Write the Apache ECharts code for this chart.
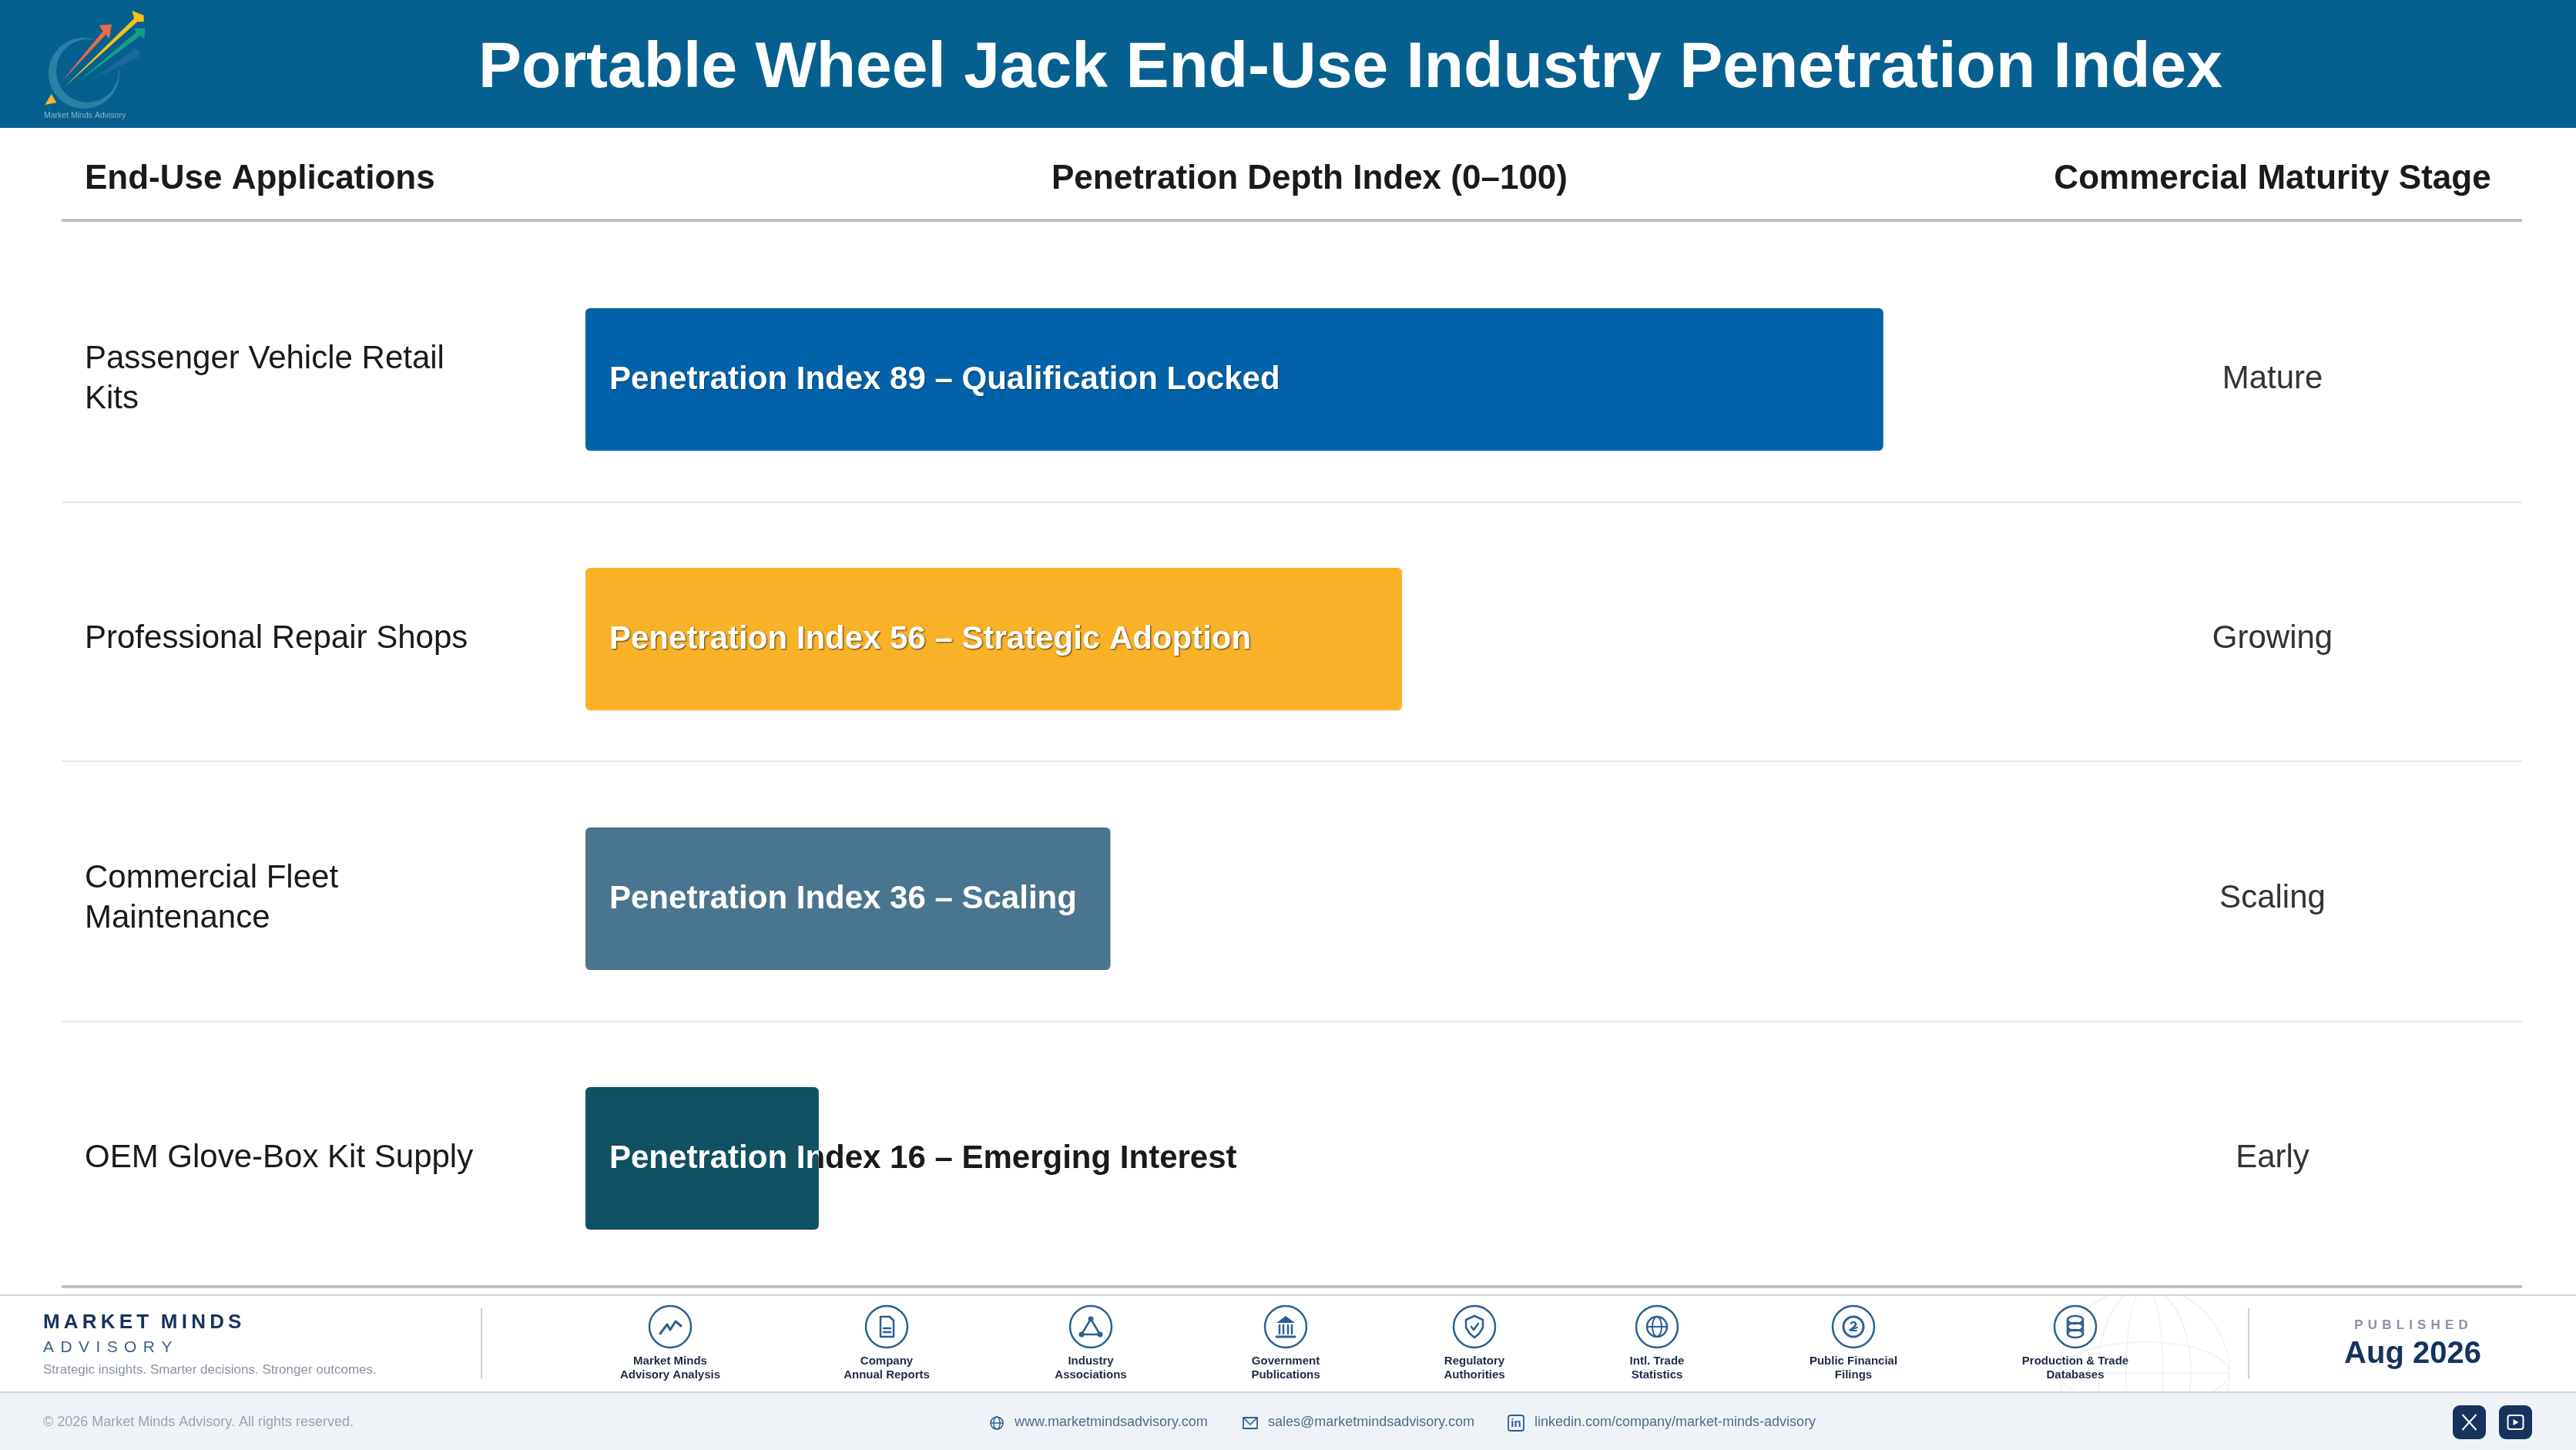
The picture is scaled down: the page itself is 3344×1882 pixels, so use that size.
<!DOCTYPE html>
<html>
<head>
<meta charset="utf-8">
<title>Portable Wheel Jack End-Use Industry Penetration Index</title>
<script src="https://cdn.jsdelivr.net/npm/echarts@6/dist/echarts.min.js"></script>
<style>
html, body { margin: 0; padding: 0; background: #fff; }
#main { width: 3344px; height: 1882px; }
</style>
</head>
<body>
<div id="main"></div>
<script>
var chartTitle = 'Portable Wheel Jack End-Use Industry Penetration Index';
var columnHeads = ['End-Use Applications', 'Penetration Depth Index (0\u2013100)', 'Commercial Maturity Stage'];
var applications = ['Passenger Vehicle Retail\nKits', 'Professional Repair Shops', 'Commercial Fleet\nMaintenance', 'OEM Glove-Box Kit Supply'];
var indexValues = [89, 56, 36, 16];
var indexNotes = ['Qualification Locked', 'Strategic Adoption', 'Scaling', 'Emerging Interest'];
var stages = ['Mature', 'Growing', 'Scaling', 'Early'];
var barColors = ['#0063a9', '#f9b227', '#4a758e', '#0f5061'];
var noteShadows = ['rgba(0,0,0,0.4)', 'rgba(0,0,0,0.7)', 'transparent', 'transparent'];
var sourceLabels = ['Market Minds\nAdvisory Analysis', 'Company\nAnnual Reports', 'Industry\nAssociations', 'Government\nPublications', 'Regulatory\nAuthorities', 'Intl. Trade\nStatistics', 'Public Financial\nFilings', 'Production & Trade\nDatabases'];
var sourceX = [870, 1151, 1416, 1669, 1914, 2151, 2406, 2694];

var FONT = '"Liberation Sans", Arial, sans-serif';
var NAVY = '#16325f';
var ICON = '#2c5f94';

function noteText(i) {
    return 'Penetration Index ' + indexValues[i] + ' \u2013 ' + indexNotes[i];
}

// label text of a row, optionally clipped to the bar so it can change colour at the bar end
function renderBarText(color, clipToBar) {
    return function (params, api) {
        var start = api.coord([0, api.value(1)]);
        var end = api.coord([api.value(0), api.value(1)]);
        var el = {
            type: 'text',
            style: {
                x: start[0] + 31,
                y: start[1] + 1,
                text: noteText(params.dataIndex),
                fill: color,
                font: 'bold 42px ' + FONT,
                textAlign: 'left',
                textVerticalAlign: 'middle',
                textShadowColor: clipToBar ? noteShadows[params.dataIndex] : 'transparent',
                textShadowBlur: clipToBar ? 2 : 0,
                textShadowOffsetX: clipToBar ? 1 : 0,
                textShadowOffsetY: clipToBar ? 1 : 0
            }
        };
        if (clipToBar) {
            el.clipPath = {
                type: 'rect',
                shape: { x: start[0], y: start[1] - 93, width: end[0] - start[0], height: 186 }
            };
        }
        return el;
    };
}

function txt(x, y, text, size, color, weight, align) {
    return {
        type: 'text', x: x, y: y, silent: true,
        style: {
            text: text, fill: color, textAlign: align || 'left', textVerticalAlign: 'middle',
            font: (weight || 'normal') + ' ' + size + 'px ' + FONT,
            lineHeight: size * 1.2
        }
    };
}

function hline(x1, x2, y, color, w) {
    return { type: 'rect', silent: true, shape: { x: x1, y: y - w / 2, width: x2 - x1, height: w }, style: { fill: color } };
}

function stroke(w) {
    return { stroke: ICON, lineWidth: w || 2.5, fill: 'none', lineCap: 'round', lineJoin: 'round' };
}
function pl(pts, w) { return { type: 'polyline', shape: { points: pts }, style: stroke(w) }; }
function ln(x1, y1, x2, y2, w) { return { type: 'line', shape: { x1: x1, y1: y1, x2: x2, y2: y2 }, style: stroke(w) }; }
function dot(x, y, r) { return { type: 'circle', shape: { cx: x, cy: y, r: r }, style: { fill: ICON } }; }
function ell(x, y, rx, ry, w) { return { type: 'ellipse', shape: { cx: x, cy: y, rx: rx, ry: ry }, style: stroke(w) }; }
function ring(x, y, r, w) { return { type: 'circle', shape: { cx: x, cy: y, r: r }, style: stroke(w) }; }

var sourceGlyphs = [
    [pl([[-13, 9], [-4, -3], [0, 4], [7, -7], [14, -1]], 3)],
    [pl([[-8, -13], [4, -13], [9, -8], [9, 13], [-8, 13], [-8, -13]], 2.5), ln(-4, 2, 5, 2), ln(-4, 7, 5, 7)],
    [pl([[0, -10], [-12, 10], [12, 10], [0, -10]], 2.5), dot(0, -10, 3.5), dot(-12, 10, 3.5), dot(12, 10, 3.5)],
    [{ type: 'polygon', shape: { points: [[0, -14], [12, -5], [-12, -5]] }, style: { fill: ICON } }, ln(-8, -2, -8, 9), ln(-3, -2, -3, 9), ln(3, -2, 3, 9), ln(8, -2, 8, 9), ln(-12, 13, 12, 13, 3)],
    [pl([[0, -14], [11, -9], [11, 1], [6, 9], [0, 14], [-6, 9], [-11, 1], [-11, -9], [0, -14]], 2.5), pl([[-4, 0], [-1, 4], [5, -4]], 2.5)],
    [ring(0, 0, 13, 2.5), ell(0, 0, 6, 13, 2), ln(-13, 0, 13, 0, 2)],
    [ring(0, 0, 13, 3), { type: 'text', x: 0, y: 1, style: { text: '2', fill: ICON, font: 'bold 19px ' + FONT, textAlign: 'center', textVerticalAlign: 'middle' } }, ln(-5, 4, 5, 1, 2)],
    [ell(0, -9, 10, 5, 2.5), ell(0, 0, 10, 5, 2.5), ell(0, 9, 10, 5, 2.5), ln(-10, -9, -10, 9), ln(10, -9, 10, 9)]
];

function logoPts(list) {
    return list.map(function (p) { return [30 + p[0] / 3, p[1] / 3]; });
}
function crescent() {
    var pts = [], a;
    for (a = -5; a <= 285; a += 5) {
        pts.push([109 + 46 * Math.cos(a * Math.PI / 180), 95 + 46 * Math.sin(a * Math.PI / 180)]);
    }
    for (a = 285; a >= -5; a -= 5) {
        pts.push([113.5 + 40.5 * Math.cos(a * Math.PI / 180), 92 + 41 * Math.sin(a * Math.PI / 180)]);
    }
    return pts;
}
function arrow(list, color, opacity) {
    return { type: 'polygon', silent: true, shape: { points: logoPts(list) }, style: { fill: color, opacity: opacity || 1 } };
}

var globeStyle = { stroke: '#f1f3f6', lineWidth: 2, fill: 'none' };
var graphics = [
    // faint globe behind the last sources, the white rect and bottom band mask its ends
    { type: 'ellipse', silent: true, shape: { cx: 2784, cy: 1782, rx: 110, ry: 112 }, style: globeStyle },
    { type: 'ellipse', silent: true, shape: { cx: 2784, cy: 1782, rx: 60, ry: 112 }, style: globeStyle },
    { type: 'ellipse', silent: true, shape: { cx: 2784, cy: 1782, rx: 24, ry: 112 }, style: globeStyle },
    { type: 'ellipse', silent: true, shape: { cx: 2784, cy: 1782, rx: 110, ry: 40 }, style: globeStyle },
    hline(2674, 2894, 1782, '#f1f3f6', 2),
    { type: 'rect', silent: true, shape: { x: 2600, y: 1600, width: 340, height: 80 }, style: { fill: '#fff' } },
    { type: 'rect', silent: true, shape: { x: 0, y: 1807, width: 3344, height: 75 }, style: { fill: '#eff3f8' } },

    { type: 'rect', silent: true, z: -10, shape: { x: 0, y: 0, width: 3344, height: 166 }, style: { fill: '#05608f' } },
    { type: 'polygon', silent: true, shape: { points: crescent() }, style: { fill: '#2f85a8', opacity: 0.9 } },
    arrow([[270, 310], [435, 190], [458, 200], [445, 225]], '#1d6ba1', 0.8),
    arrow([[210, 322], [440, 125], [432, 110], [475, 110], [472, 152], [458, 138]], '#12a085'),
    arrow([[160, 340], [432, 72], [425, 42], [470, 60], [470, 85], [445, 85]], '#f8c219'),
    arrow([[148, 320], [310, 122], [296, 98], [345, 95], [335, 150], [322, 135]], '#ec6a4b'),
    arrow([[110, 365], [130, 400], [85, 408]], '#f7b52b'),
    txt(57, 150, 'Market Minds Advisory', 10.5, '#8fb3c6'),

    txt(110, 233, columnHeads[0], 44, '#1a1a1a', 'bold'),
    txt(1700, 233, columnHeads[1], 44, '#1a1a1a', 'bold', 'center'),
    txt(2950, 233, columnHeads[2], 44, '#1a1a1a', 'bold', 'center'),
    hline(80, 3274, 286, '#bfc0c6', 4),
    hline(80, 3274, 652, '#e6e7e9', 2),
    hline(80, 3274, 988, '#e6e7e9', 2),
    hline(80, 3274, 1326, '#e6e7e9', 2),
    hline(80, 3274, 1670, '#bfc0c6', 4),

    // footer
    hline(0, 3344, 1681, '#d2d5e0', 2),
    hline(0, 3344, 1807, '#d2d5e0', 2),
    hline(624, 626, 1744, '#cdd0d6', 92),
    txt(56, 1717, 'M\u2009A\u2009R\u2009K\u2009E\u2009T\u2009\u2009\u2009M\u2009I\u2009N\u2009D\u2009S', 26, NAVY, 'bold'),
    txt(56, 1749, 'A\u2009\u2009D\u2009\u2009V\u2009\u2009I\u2009\u2009S\u2009\u2009O\u2009\u2009R\u2009\u2009Y', 21, '#3d5f8c'),
    txt(56, 1778, 'Strategic insights. Smarter decisions. Stronger outcomes.', 17, '#8a93a3'),
    hline(2918, 2920, 1744, '#cdd0d6', 92),
    txt(3130, 1720, 'P \u200aU \u200aB \u200aL \u200aI \u200aS \u200aH \u200aE \u200aD', 17, '#8a93a3', 'bold', 'center'),
    txt(3132, 1758, 'Aug 2026', 40, NAVY, 'bold', 'center'),
    txt(56, 1846, '\u00a9 2026 Market Minds Advisory. All rights reserved.', 18, '#99a2b1'),
    txt(1317, 1846, 'www.marketmindsadvisory.com', 18, '#4d6a8e'),
    txt(1646, 1846, 'sales@marketmindsadvisory.com', 18, '#4d6a8e'),
    txt(1992, 1846, 'linkedin.com/company/market-minds-advisory', 18, '#4d6a8e')
];

sourceX.forEach(function (x, i) {
    graphics.push({
        type: 'group', x: x, y: 1722, silent: true,
        children: [ring(0, 0, 27, 2.5)].concat(sourceGlyphs[i])
    });
    graphics.push(txt(x, 1776, sourceLabels[i], 15, '#1f2a44', 'bold', 'center'));
});

// contact glyphs and social buttons
graphics.push(
    { type: 'group', x: 1294, y: 1847, silent: true, children: [ring(0, 0, 8, 1.6), ell(0, 0, 4, 8, 1.4), ln(-8, 0, 8, 0, 1.4)] },
    { type: 'group', x: 1623, y: 1847, silent: true, children: [
        { type: 'rect', shape: { x: -9, y: -7, width: 18, height: 14 }, style: stroke(1.8) },
        pl([[-8, -6], [0, 2], [8, -6]], 1.6)
    ] },
    { type: 'group', x: 1968, y: 1847, silent: true, children: [
        { type: 'rect', shape: { x: -10, y: -10, width: 20, height: 20, r: 3 }, style: stroke(1.8) },
        { type: 'text', x: 0, y: 1, style: { text: 'in', fill: ICON, font: 'bold 15px ' + FONT, textAlign: 'center', textVerticalAlign: 'middle' } }
    ] },
    { type: 'rect', silent: true, shape: { x: 3184, y: 1824, width: 43, height: 44, r: 9 }, style: { fill: NAVY } },
    { type: 'rect', silent: true, shape: { x: 3244, y: 1824, width: 43, height: 44, r: 9 }, style: { fill: NAVY } },
    { type: 'group', x: 3205.5, y: 1846, silent: true, children: [
        { type: 'line', shape: { x1: -9, y1: -10, x2: 9, y2: 10 }, style: { stroke: '#fff', lineWidth: 2 } },
        { type: 'line', shape: { x1: 9, y1: -10, x2: -9, y2: 10 }, style: { stroke: '#fff', lineWidth: 2 } }
    ] },
    { type: 'group', x: 3265.5, y: 1846, silent: true, children: [
        { type: 'rect', shape: { x: -10, y: -9, width: 20, height: 18, r: 3 }, style: { stroke: '#fff', lineWidth: 2, fill: 'none' } },
        { type: 'polygon', shape: { points: [[-3, -4], [4, 0], [-3, 4]] }, style: { fill: '#fff' } }
    ] }
);

var myChart = echarts.init(document.getElementById('main'), null, { renderer: 'canvas' });
var options = {
    animation: false,
    backgroundColor: '#fff',
    title: {
        text: chartTitle,
        left: 1748,
        top: 85,
        textAlign: 'center',
        textVerticalAlign: 'middle',
        textStyle: { color: '#fff', fontFamily: FONT, fontWeight: 'bold', fontSize: 84 }
    },
    grid: { left: 760, top: 324, width: 1893, height: 1348, containLabel: false },
    xAxis: { type: 'value', min: 0, max: 100, show: false },
    yAxis: [{
        type: 'category',
        inverse: true,
        data: applications,
        axisLine: { show: false },
        axisTick: { show: false },
        axisLabel: {
            align: 'left', margin: 650, color: '#1a1a1a',
            fontFamily: FONT, fontSize: 42, lineHeight: 52
        }
    }, {
        type: 'category',
        inverse: true,
        position: 'right',
        data: stages,
        axisLine: { show: false },
        axisTick: { show: false },
        axisLabel: {
            align: 'center', margin: 297, color: '#333',
            fontFamily: FONT, fontSize: 42, padding: [2, 0, 0, 0]
        }
    }],
    series: [{
        // dark copy of the note, the bar covers it where they overlap
        type: 'custom',
        z: 1,
        silent: true,
        encode: { x: 0, y: 1 },
        data: indexValues.map(function (v, i) { return [v, i]; }),
        renderItem: renderBarText('#1a1a1a', false)
    }, {
        type: 'bar',
        z: 2,
        barWidth: 185,
        data: indexValues.map(function (v, i) {
            return { value: v, itemStyle: { color: barColors[i], borderRadius: 6 } };
        })
    }, {
        type: 'custom',
        z: 3,
        silent: true,
        encode: { x: 0, y: 1 },
        data: indexValues.map(function (v, i) { return [v, i]; }),
        renderItem: renderBarText('#ffffff', true)
    }],
    graphic: { elements: graphics }
};
myChart.setOption(options);
</script>
</body>
</html>
